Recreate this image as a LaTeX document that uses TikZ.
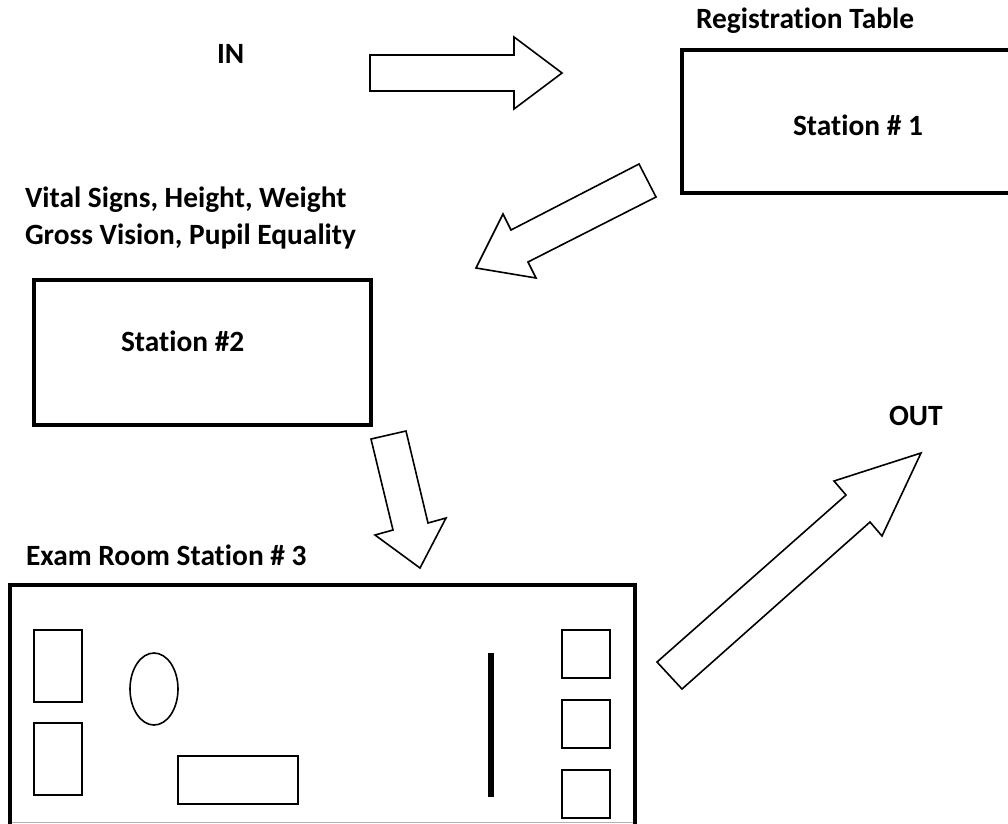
\documentclass[tikz,border=0pt]{standalone}
\usepackage{fontspec}
\setmainfont[Ligatures=NoCommon]{Carlito}
\tikzset{
  heavy/.style={draw=black,line width=3.6pt,miter limit=10},
  thin box/.style={draw=black,line width=1.6pt},
  block arrow/.style={draw=black,fill=white,line width=1.6pt,line join=miter},
  label text/.style={font=\bfseries\fontsize{29.4}{33}\selectfont,anchor=base west,inner sep=0pt,outer sep=0pt},
}
\begin{document}
\begin{tikzpicture}[x=1pt,y=-1pt]
\clip (0,0) rectangle (1008,823);
\fill[white] (0,0) rectangle (1008,823);
% main rooms
\draw[heavy] (1030,50) -- (682,50) -- (682,193) -- (1030,193);
\draw[heavy] (34,280) rectangle (371,425);
\draw[black!30,line width=1pt] (10,822.3) -- (635,822.3);
\draw[heavy] (10,840) -- (10,585) -- (635,585) -- (635,840);
% block arrows
\draw[block arrow] (370,55) -- (514,55) -- (514,37) -- (562,73) -- (514,109) -- (514,91) -- (370,91) -- cycle;
\draw[block arrow] (639,164) -- (656,197) -- (528,262) -- (536,278) -- (476,268) -- (503,214) -- (511,230) -- cycle;
\draw[block arrow] (371,439) -- (406,431) -- (428,523) -- (446,518) -- (420,568) -- (375,535) -- (393,530) -- cycle;
\draw[block arrow] (657,662) -- (682,689) -- (870,522) -- (882,536) -- (921,453) -- (834,481) -- (846,495) -- cycle;
% exam room furniture
\draw[thin box] (34,630) rectangle (82,702);
\draw[thin box] (34,723) rectangle (82,795);
\draw[thin box] (154,689) ellipse [x radius=24,y radius=36];
\draw[thin box] (178,756) rectangle (298,804);
\draw[thin box] (562,630) rectangle (610,678);
\draw[thin box] (562,700) rectangle (610,748);
\draw[thin box] (562,770) rectangle (610,818);
\draw[black,line width=6pt] (490.5,653) -- (490.5,797);
% labels
\node[label text] (in) at (217,63.5) {IN};
\node[label text] (reg) at (696,28.5) {Registration Table};
\node[label text] (s1) at (793,135.5) {Station \# 1};
\node[label text] (vital) at (25,207.5) {Vital Signs, Height, Weight};
\node[label text] (gross) at (25,244.5) {Gross Vision, Pupil Equality};
\node[label text] (s2) at (121,351.5) {Station \#2};
\node[label text] (out) at (889,425) {OUT};
\node[label text] (exam) at (26,565.5) {Exam Room Station \# 3};
\end{tikzpicture}
\end{document}
